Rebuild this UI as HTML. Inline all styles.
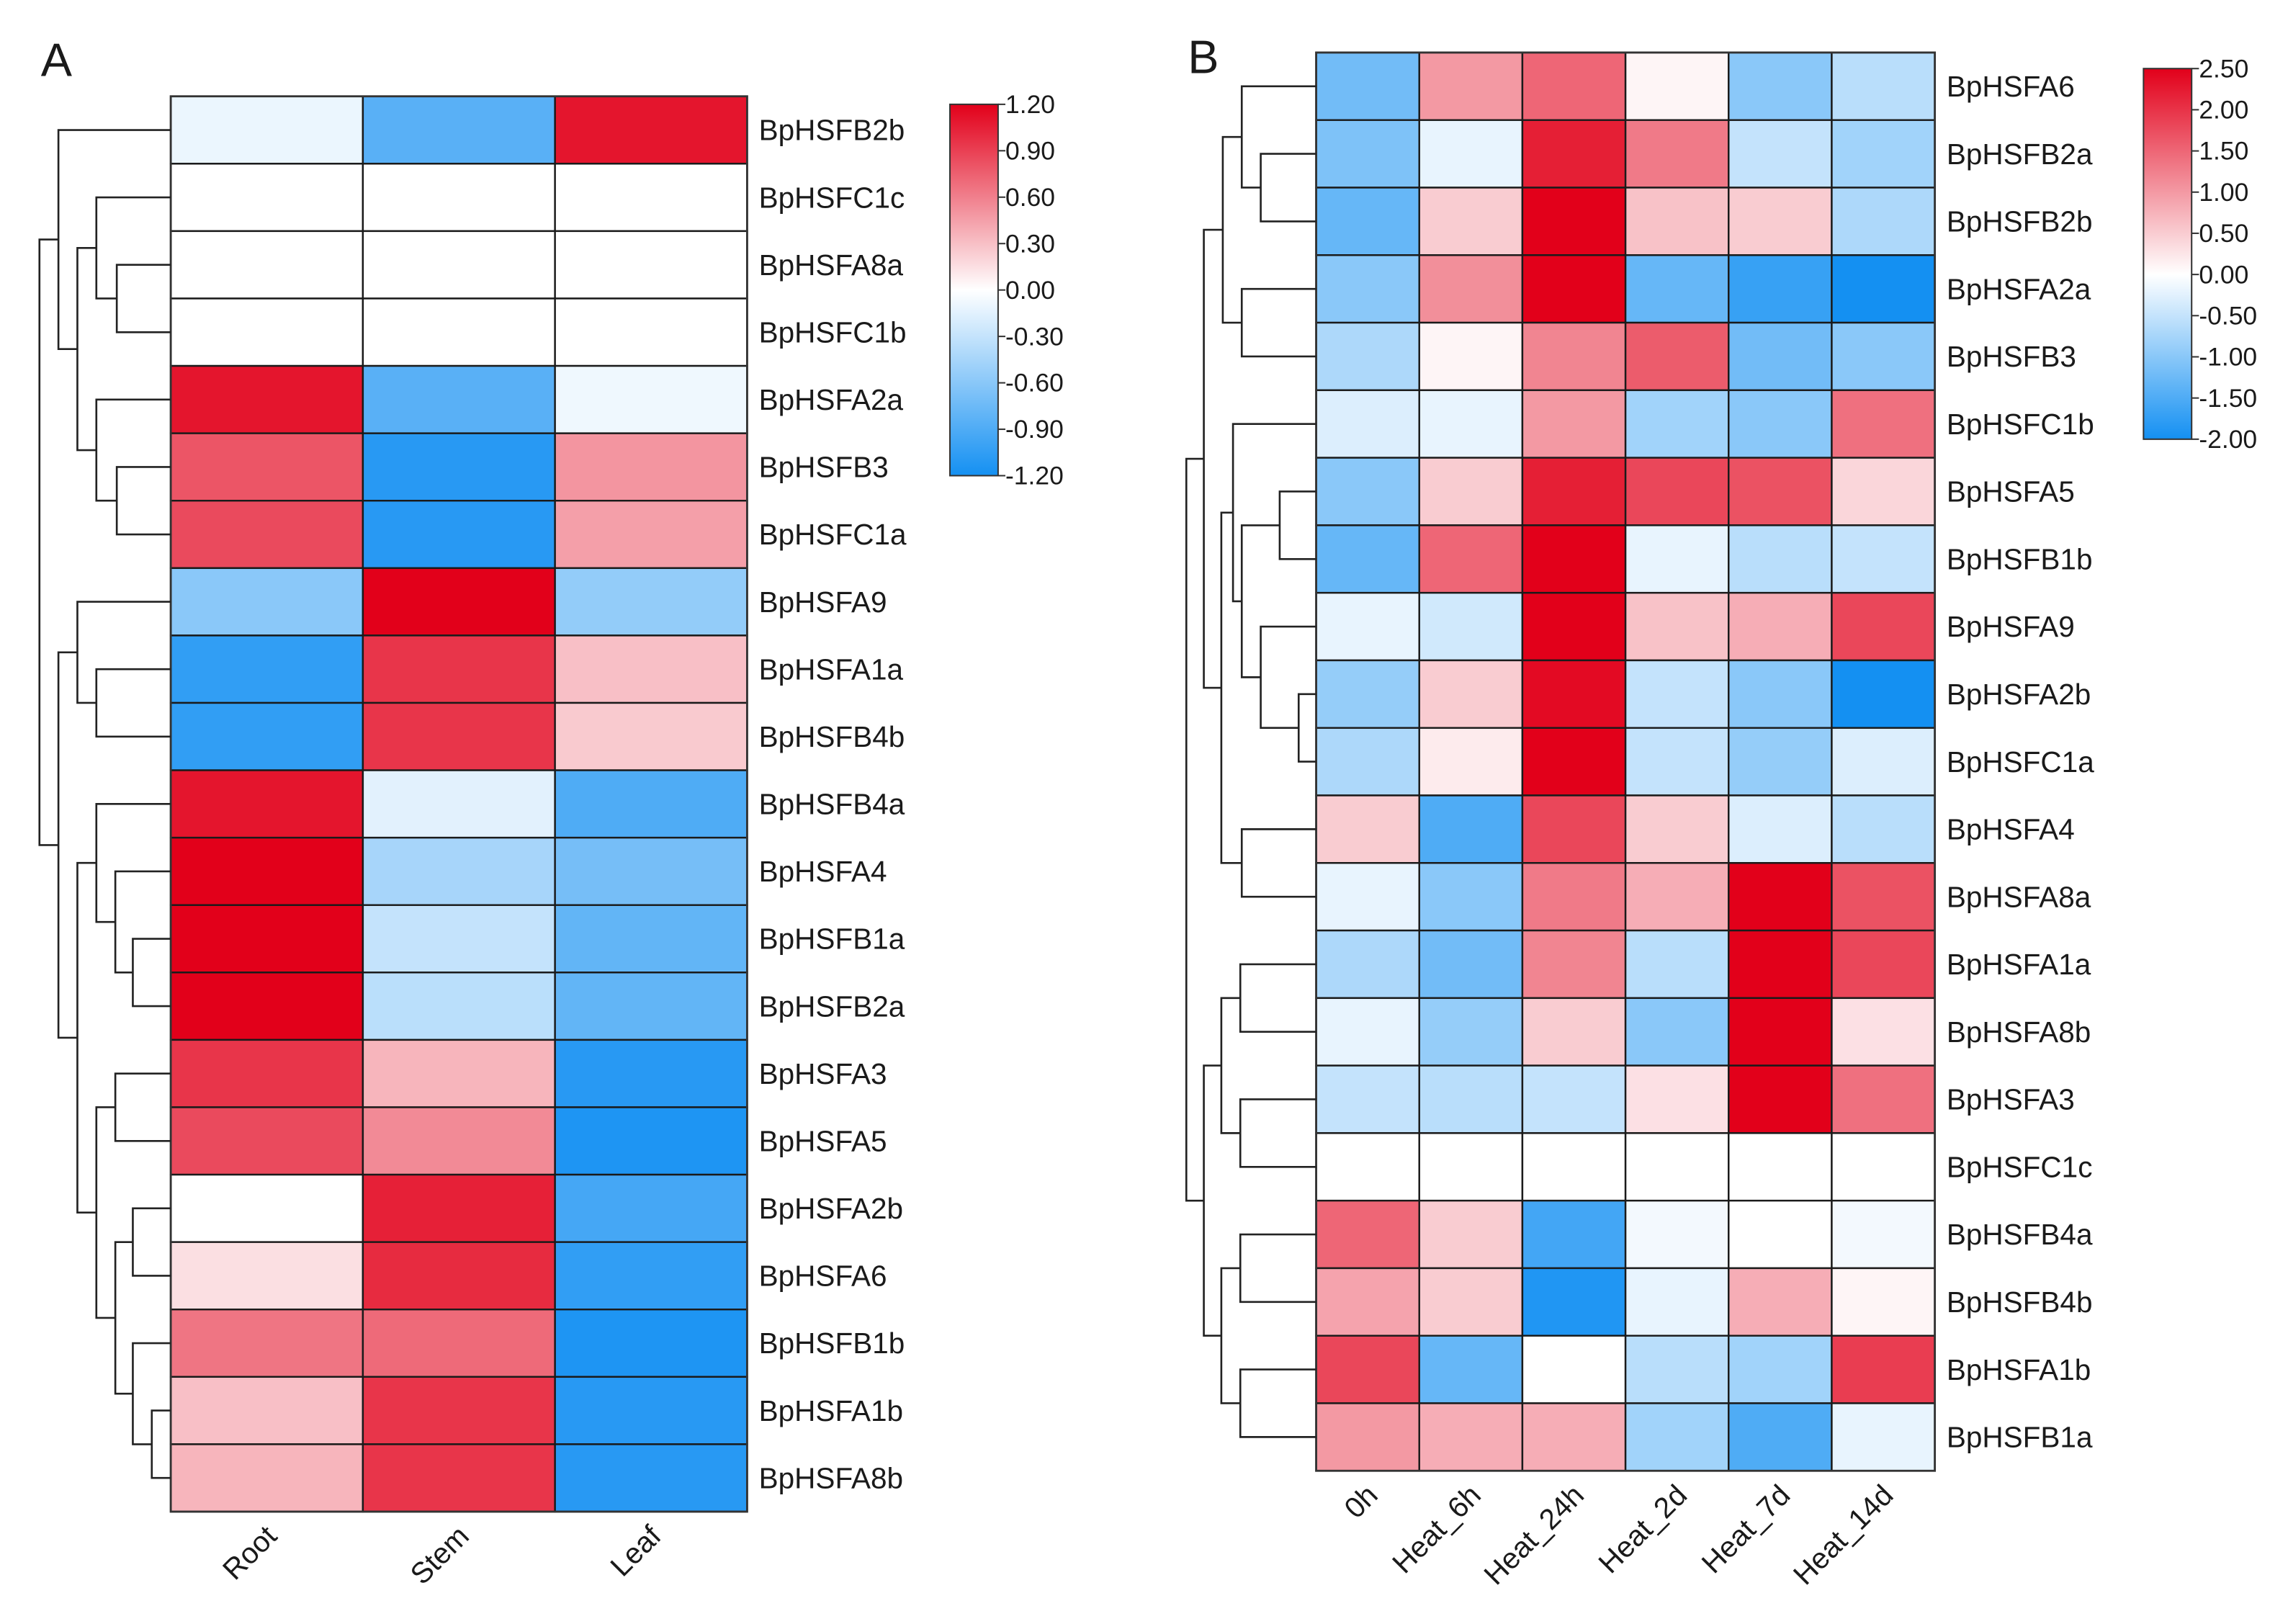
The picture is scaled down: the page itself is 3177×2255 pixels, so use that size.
<!DOCTYPE html>
<html><head><meta charset="utf-8"><style>
html,body{margin:0;padding:0;background:#fff}
svg{display:block}
text{font-family:"Liberation Sans",Arial,sans-serif;fill:#1a1a1a}
</style></head><body>
<svg id="fig" width="3177" height="2255" viewBox="0 0 1568 1113" xmlns="http://www.w3.org/2000/svg">
<defs>
<linearGradient id="gA" x1="0" y1="0" x2="0" y2="1">
<stop offset="0" stop-color="#e2001a"/><stop offset="0.5" stop-color="#ffffff"/><stop offset="1" stop-color="#1490f2"/>
</linearGradient>
<linearGradient id="gB" x1="0" y1="0" x2="0" y2="1">
<stop offset="0" stop-color="#e2001a"/><stop offset="0.5556" stop-color="#ffffff"/><stop offset="1" stop-color="#1490f2"/>
</linearGradient>
</defs>
<text x="28" y="52" font-size="32">A</text>
<text x="814" y="50" font-size="32">B</text>
<g id="panelA"></g>
<g id="panelB"></g>
</svg>
<script>
const rowsA = ["BpHSFB2b","BpHSFC1c","BpHSFA8a","BpHSFC1b","BpHSFA2a","BpHSFB3","BpHSFC1a","BpHSFA9","BpHSFA1a","BpHSFB4b","BpHSFB4a","BpHSFA4","BpHSFB1a","BpHSFB2a","BpHSFA3","BpHSFA5","BpHSFA2b","BpHSFA6","BpHSFB1b","BpHSFA1b","BpHSFA8b"];
const colsA = ["Root","Stem","Leaf"];
const valuesA = [
[-0.1,-0.85,1.1],[0,0,0],[0,0,0],[0,0,0],[1.1,-0.85,-0.08],[0.8,-1.1,0.5],[0.85,-1.1,0.45],
[-0.6,1.2,-0.55],[-1.05,0.95,0.3],[-1.05,0.95,0.25],[1.1,-0.15,-0.9],[1.2,-0.45,-0.7],[1.2,-0.3,-0.8],[1.2,-0.35,-0.8],
[0.95,0.35,-1.1],[0.85,0.55,-1.15],[0,1.05,-0.95],[0.15,1.0,-1.05],[0.65,0.7,-1.15],[0.3,0.95,-1.1],[0.35,0.95,-1.1]];
const ticksA = ["1.20","0.90","0.60","0.30","0.00","-0.30","-0.60","-0.90","-1.20"];

const rowsB = ["BpHSFA6","BpHSFB2a","BpHSFB2b","BpHSFA2a","BpHSFB3","BpHSFC1b","BpHSFA5","BpHSFB1b","BpHSFA9","BpHSFA2b","BpHSFC1a","BpHSFA4","BpHSFA8a","BpHSFA1a","BpHSFA8b","BpHSFA3","BpHSFC1c","BpHSFB4a","BpHSFB4b","BpHSFA1b","BpHSFB1a"];
const colsB = ["0h","Heat_6h","Heat_24h","Heat_2d","Heat_7d","Heat_14d"];
const valuesB = [
[-1.2,1.0,1.5,0.1,-1.0,-0.6],[-1.1,-0.2,2.2,1.3,-0.5,-0.8],[-1.3,0.5,2.5,0.6,0.5,-0.7],[-1.0,1.1,2.5,-1.3,-1.7,-2.0],
[-0.7,0.1,1.2,1.6,-1.2,-1.0],[-0.3,-0.2,1.0,-0.8,-1.0,1.4],[-1.0,0.5,2.2,1.8,1.7,0.4],[-1.3,1.5,2.5,-0.2,-0.6,-0.5],
[-0.2,-0.4,2.5,0.6,0.8,1.8],[-0.9,0.5,2.4,-0.5,-1.0,-2.0],[-0.7,0.2,2.5,-0.5,-0.9,-0.3],[0.5,-1.5,1.8,0.5,-0.3,-0.6],
[-0.2,-1.0,1.3,0.8,2.5,1.7],[-0.7,-1.2,1.2,-0.6,2.5,1.8],[-0.2,-0.9,0.5,-1.0,2.5,0.3],[-0.5,-0.6,-0.5,0.3,2.5,1.4],
[0,0,0,0,0,0],[1.5,0.5,-1.6,-0.1,0.0,-0.1],[0.9,0.5,-1.9,-0.2,0.8,0.1],[1.8,-1.3,0.0,-0.6,-0.8,1.9],[1.0,0.8,0.8,-0.8,-1.5,-0.2]];
const ticksB = ["2.50","2.00","1.50","1.00","0.50","0.00","-0.50","-1.00","-1.50","-2.00"];

// dendrogram trees: [left, right, mergeX]
const treeA = [[0,[[1,[2,3,80],66],[4,[5,6,80],66],53],40],[[7,[8,9,66],53],[[10,[11,[12,13,91],79],66],[[14,15,79],[[16,17,91],[18,[19,20,104],91],79],66],53],40],27];
const treeB = [[[[0,[1,2,864],851],[3,4,851],838],[[5,[[6,7,877],[8,[9,10,890],864],851],845],[11,12,851],837],825],[[[13,14,850],[15,16,850],837],[[17,18,850],[19,20,850],837],825],813];

const NS="http://www.w3.org/2000/svg";
function mk(tag,attrs,parent){const e=document.createElementNS(NS,tag);for(const k in attrs)e.setAttribute(k,attrs[k]);parent.appendChild(e);return e;}
function mix(a,b,t){return a.map((v,i)=>Math.round(v+(b[i]-v)*t));}
function colorFor(v,min,max){
  const red=[226,0,26],white=[255,255,255],blue=[20,144,242];
  let c; if(v>=0){c=mix(white,red,Math.min(1,v/max));} else {c=mix(white,blue,Math.min(1,v/min));}
  return "rgb("+c.join(",")+")";
}

function drawPanel(g,rows,cols,vals,ticks,min,max,geo,tree,grad,prefix){
  const cw=(geo.x1-geo.x0)/cols.length, rh=(geo.y1-geo.y0)/rows.length;
  const xs=i=>geo.x0+i*cw, ys=i=>geo.y0+i*rh;
  vals.forEach((row,r)=>row.forEach((v,c)=>{
    const e=mk("rect",{x:xs(c),y:ys(r),width:cw,height:rh,fill:colorFor(v,min,max),stroke:"#1a1a1a","stroke-width":1.2},g);
    
    
  }));
  const bd=mk("rect",{x:geo.x0,y:geo.y0,width:geo.x1-geo.x0,height:geo.y1-geo.y0,fill:"none",stroke:"#333","stroke-width":1.4},g);
  
  
  rows.forEach((n,r)=>{
    const t=mk("text",{x:geo.x1+8,y:ys(r)+rh/2+7,"font-size":20},g); t.textContent=n;
    
    
  });
  cols.forEach((n,c)=>{
    const cx=xs(c)+cw/2+8, cy=geo.y1+18;
    const t=mk("text",{x:cx,y:cy,"font-size":20,"text-anchor":"end",transform:"rotate(-45 "+cx+" "+cy+")"},g); t.textContent=n;
    
    
  });
  // colorbar
  const cb=geo.cb;
  const bar=mk("rect",{x:cb.x,y:cb.y0,width:cb.w,height:cb.y1-cb.y0,fill:"url(#"+grad+")",stroke:"#333","stroke-width":1},g);
  
  
  ticks.forEach((tk,i)=>{
    const y=cb.y0+(cb.y1-cb.y0)*i/(ticks.length-1);
    const l=mk("line",{x1:cb.x+cb.w,x2:cb.x+cb.w+5,y1:y,y2:y,stroke:"#333","stroke-width":1},g);
    
    
    const t=mk("text",{x:cb.x+cb.w+5,y:y+6,"font-size":17.5},g); t.textContent=tk;
    
    
  });
  // dendrogram
  const dg=mk("g",{fill:"none",stroke:"#222","stroke-width":1.3},g);
  
  
  function node(n){
    if(typeof n==="number") return {x:geo.x0,y:ys(n)+rh/2};
    const a=node(n[0]),b=node(n[1]),x=n[2];
    const p=mk("path",{d:"M"+a.x+" "+a.y+"H"+x+"V"+b.y+"H"+b.x},dg);
    
    
    return {x:x,y:(a.y+b.y)/2};
  }
  node(tree);
}
drawPanel(document.getElementById("panelA"),rowsA,colsA,valuesA,ticksA,-1.2,1.2,
  {x0:117,x1:512,y0:66,y1:1036,cb:{x:651,w:33,y0:71.5,y1:326}},treeA,"gA","a");
drawPanel(document.getElementById("panelB"),rowsB,colsB,valuesB,ticksB,-2,2.5,
  {x0:902,x1:1326,y0:36,y1:1008,cb:{x:1469,w:33,y0:47,y1:301}},treeB,"gB","b");
</script>
</body></html>
